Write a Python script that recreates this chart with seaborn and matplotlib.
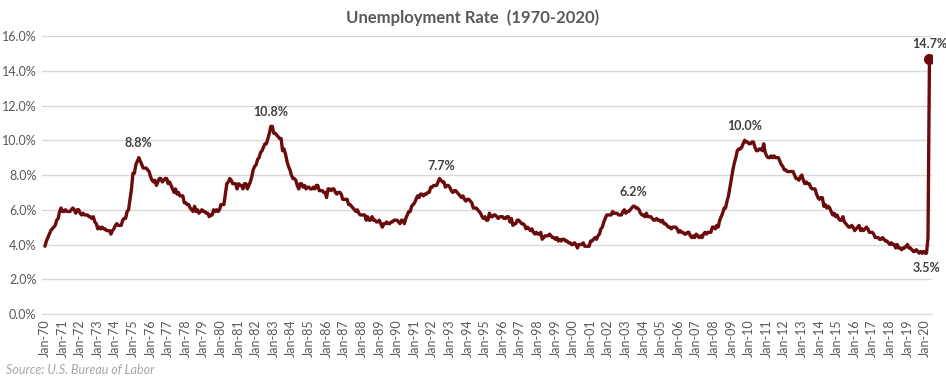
import matplotlib
matplotlib.use("Agg")
import matplotlib.pyplot as plt
import seaborn as sns
import pandas as pd

sns.set_style("white")
plt.rcParams['font.family'] = ['Lato', 'DejaVu Sans']

# monthly unemployment rate (%), Jan-1970 .. Apr-2020
rates_by_year = {
    1970: [3.9, 4.2, 4.4, 4.6, 4.8, 4.9, 5.0, 5.1, 5.4, 5.5, 5.9, 6.1],
    1971: [5.9, 5.9, 6.0, 5.9, 5.9, 5.9, 6.0, 6.1, 6.0, 5.8, 6.0, 6.0],
    1972: [5.8, 5.7, 5.8, 5.7, 5.7, 5.7, 5.6, 5.6, 5.5, 5.6, 5.3, 5.2],
    1973: [4.9, 5.0, 4.9, 5.0, 4.9, 4.9, 4.8, 4.8, 4.8, 4.6, 4.8, 4.9],
    1974: [5.1, 5.2, 5.1, 5.1, 5.1, 5.4, 5.5, 5.5, 5.9, 6.0, 6.6, 7.2],
    1975: [8.1, 8.1, 8.6, 8.8, 9.0, 8.8, 8.6, 8.4, 8.4, 8.4, 8.3, 8.2],
    1976: [7.9, 7.7, 7.6, 7.7, 7.4, 7.6, 7.8, 7.8, 7.6, 7.7, 7.8, 7.8],
    1977: [7.5, 7.6, 7.4, 7.2, 7.0, 7.2, 6.9, 7.0, 6.8, 6.8, 6.8, 6.4],
    1978: [6.4, 6.3, 6.3, 6.1, 6.0, 5.9, 6.2, 5.9, 6.0, 5.8, 5.9, 6.0],
    1979: [5.9, 5.9, 5.8, 5.8, 5.6, 5.7, 5.7, 6.0, 5.9, 6.0, 5.9, 6.0],
    1980: [6.3, 6.3, 6.3, 6.9, 7.5, 7.6, 7.8, 7.7, 7.5, 7.5, 7.5, 7.2],
    1981: [7.5, 7.4, 7.4, 7.2, 7.5, 7.5, 7.2, 7.4, 7.6, 7.9, 8.3, 8.5],
    1982: [8.6, 8.9, 9.0, 9.3, 9.4, 9.6, 9.8, 9.8, 10.1, 10.4, 10.8, 10.8],
    1983: [10.4, 10.4, 10.3, 10.2, 10.1, 10.1, 9.4, 9.5, 9.2, 8.8, 8.5, 8.3],
    1984: [8.0, 7.8, 7.8, 7.7, 7.4, 7.2, 7.5, 7.5, 7.3, 7.4, 7.2, 7.3],
    1985: [7.3, 7.2, 7.2, 7.3, 7.2, 7.4, 7.4, 7.1, 7.1, 7.1, 7.0, 7.0],
    1986: [6.7, 7.2, 7.2, 7.1, 7.2, 7.2, 7.0, 6.9, 7.0, 7.0, 6.9, 6.6],
    1987: [6.6, 6.6, 6.6, 6.3, 6.3, 6.2, 6.1, 6.0, 5.9, 6.0, 5.8, 5.7],
    1988: [5.7, 5.7, 5.7, 5.4, 5.6, 5.4, 5.4, 5.6, 5.4, 5.4, 5.3, 5.3],
    1989: [5.4, 5.2, 5.0, 5.2, 5.2, 5.3, 5.2, 5.2, 5.3, 5.3, 5.4, 5.4],
    1990: [5.4, 5.3, 5.2, 5.4, 5.4, 5.2, 5.5, 5.7, 5.9, 5.9, 6.2, 6.3],
    1991: [6.4, 6.6, 6.8, 6.7, 6.9, 6.9, 6.8, 6.9, 6.9, 7.0, 7.0, 7.3],
    1992: [7.3, 7.4, 7.4, 7.4, 7.6, 7.8, 7.7, 7.6, 7.6, 7.3, 7.4, 7.4],
    1993: [7.3, 7.1, 7.0, 7.1, 7.1, 7.0, 6.9, 6.8, 6.7, 6.8, 6.6, 6.5],
    1994: [6.6, 6.6, 6.5, 6.4, 6.1, 6.1, 6.1, 6.0, 5.9, 5.8, 5.6, 5.5],
    1995: [5.6, 5.4, 5.4, 5.8, 5.6, 5.6, 5.7, 5.7, 5.6, 5.5, 5.6, 5.6],
    1996: [5.6, 5.5, 5.5, 5.6, 5.6, 5.3, 5.5, 5.1, 5.2, 5.2, 5.4, 5.4],
    1997: [5.3, 5.2, 5.2, 5.1, 4.9, 5.0, 4.9, 4.8, 4.9, 4.7, 4.6, 4.7],
    1998: [4.6, 4.6, 4.7, 4.3, 4.4, 4.5, 4.5, 4.5, 4.6, 4.5, 4.4, 4.4],
    1999: [4.3, 4.4, 4.2, 4.3, 4.2, 4.3, 4.3, 4.2, 4.2, 4.1, 4.1, 4.0],
    2000: [4.0, 4.1, 4.0, 3.8, 4.0, 4.0, 4.0, 4.1, 3.9, 3.9, 3.9, 3.9],
    2001: [4.2, 4.2, 4.3, 4.4, 4.3, 4.5, 4.6, 4.9, 5.0, 5.3, 5.5, 5.7],
    2002: [5.7, 5.7, 5.7, 5.9, 5.8, 5.8, 5.8, 5.7, 5.7, 5.7, 5.9, 6.0],
    2003: [5.8, 5.9, 5.9, 6.0, 6.1, 6.2, 6.2, 6.1, 6.1, 6.0, 5.8, 5.7],
    2004: [5.7, 5.6, 5.8, 5.6, 5.6, 5.6, 5.5, 5.4, 5.4, 5.5, 5.4, 5.4],
    2005: [5.3, 5.4, 5.2, 5.2, 5.1, 5.0, 5.0, 4.9, 5.0, 5.0, 5.0, 4.9],
    2006: [4.7, 4.8, 4.7, 4.7, 4.6, 4.6, 4.7, 4.7, 4.5, 4.4, 4.5, 4.4],
    2007: [4.6, 4.5, 4.4, 4.5, 4.4, 4.6, 4.7, 4.6, 4.7, 4.7, 4.7, 5.0],
    2008: [5.0, 4.9, 5.1, 5.0, 5.4, 5.6, 5.8, 6.1, 6.1, 6.5, 6.8, 7.3],
    2009: [7.8, 8.3, 8.7, 9.0, 9.4, 9.5, 9.5, 9.6, 9.8, 10.0, 9.9, 9.9],
    2010: [9.8, 9.8, 9.9, 9.9, 9.6, 9.4, 9.4, 9.5, 9.5, 9.4, 9.8, 9.3],
    2011: [9.1, 9.0, 9.0, 9.1, 9.0, 9.1, 9.0, 9.0, 9.0, 8.8, 8.6, 8.5],
    2012: [8.3, 8.3, 8.2, 8.2, 8.2, 8.2, 8.2, 8.0, 7.8, 7.8, 7.7, 7.9],
    2013: [8.0, 7.7, 7.5, 7.6, 7.5, 7.5, 7.3, 7.2, 7.2, 7.2, 6.9, 6.7],
    2014: [6.6, 6.7, 6.7, 6.2, 6.3, 6.1, 6.2, 6.1, 5.9, 5.7, 5.8, 5.6],
    2015: [5.7, 5.5, 5.4, 5.4, 5.6, 5.3, 5.2, 5.1, 5.0, 5.0, 5.1, 5.0],
    2016: [4.8, 4.9, 5.0, 5.1, 4.8, 4.9, 4.8, 4.9, 5.0, 4.9, 4.7, 4.7],
    2017: [4.7, 4.6, 4.4, 4.4, 4.4, 4.3, 4.3, 4.4, 4.3, 4.2, 4.2, 4.1],
    2018: [4.0, 4.1, 4.0, 4.0, 3.8, 4.0, 3.8, 3.8, 3.7, 3.8, 3.8, 3.9],
    2019: [4.0, 3.8, 3.8, 3.7, 3.6, 3.6, 3.7, 3.6, 3.5, 3.6, 3.5, 3.6],
    2020: [3.5, 3.5, 4.4, 14.7],
}

# labelled points: (month label, text, above/below)
callouts = [
    ("May-75", "8.8%", "above"),
    ("Nov-82", "10.8%", "above"),
    ("Jul-92", "7.7%", "above"),
    ("Jun-03", "6.2%", "above"),
    ("Oct-09", "10.0%", "above"),
    ("Feb-20", "3.5%", "below"),
    ("Apr-20", "14.7%", "above"),
]

months = ["Jan", "Feb", "Mar", "Apr", "May", "Jun",
          "Jul", "Aug", "Sep", "Oct", "Nov", "Dec"]

rows = []
for yr, vals in rates_by_year.items():
    for m, v in enumerate(vals):
        rows.append({"label": f"{months[m]}-{str(yr)[2:]}", "rate": v})
df = pd.DataFrame(rows)
df["idx"] = range(len(df))

line_col = "#6B0C0C"
text_col = "#595959"

fig = plt.figure(figsize=(9.46, 3.86), dpi=100)
ax = fig.add_axes([0.0444, 0.1865, 0.9406, 0.7202])

sns.lineplot(data=df, x="idx", y="rate", ax=ax, color=line_col, linewidth=2.4)

last = df.iloc[-1]
ax.plot(last["idx"], last["rate"], "o", color=line_col, markersize=7, zorder=5)

for lab, txt, pos in callouts:
    r = df[df["label"] == lab].iloc[0]
    if pos == "above":
        ax.annotate(txt, (r["idx"], r["rate"]), xytext=(0, 6), textcoords="offset points",
                    ha="center", va="bottom", fontsize=9, fontweight="bold", color="#404040")
    else:
        ax.annotate(txt, (r["idx"], r["rate"]), xytext=(0, -6), textcoords="offset points",
                    ha="center", va="top", fontsize=9, fontweight="bold", color="#404040")

ax.set_ylim(0, 16)
ax.set_yticks(range(0, 17, 2))
ax.set_yticklabels([f"{v:.1f}%" for v in range(0, 17, 2)], fontsize=9, color=text_col)
ax.set_xlim(-2, len(df) + 0.6)
jan_rows = df[df["label"].str.startswith("Jan")]
ax.set_xticks(jan_rows["idx"])
ax.set_xticklabels(jan_rows["label"], rotation=90, fontsize=9, color=text_col)
ax.tick_params(axis="both", length=0, pad=4)

ax.grid(axis="y", color="#D9D9D9", linewidth=1)
ax.set_axisbelow(True)
for s in ["top", "right", "left"]:
    ax.spines[s].set_visible(False)
ax.spines["bottom"].set_color("#D9D9D9")
ax.set_xlabel("")
ax.set_ylabel("")

fig.text(0.5, 0.975, "Unemployment Rate  (1970-2020)", ha="center", va="top",
         fontsize=12, fontweight="bold", color=text_col)
fig.text(0.006, 0.025, "Source: U.S. Bureau of Labor", ha="left", va="bottom",
         fontsize=9, style="italic", color="#A6A6A6")

fig.savefig("out.png", dpi=100)
